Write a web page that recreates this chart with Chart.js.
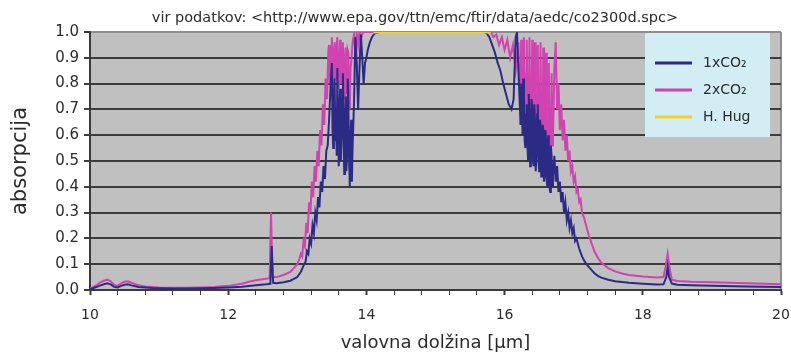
<!DOCTYPE html>
<html>
<head>
<meta charset="utf-8">
<title>absorpcija CO2</title>
<script src="https://cdn.jsdelivr.net/npm/chart.js@4.4.0/dist/chart.umd.min.js"></script>
<style>
  html, body { margin: 0; padding: 0; background: #ffffff; overflow: hidden; }
  canvas { display: block; }
</style>
</head>
<body>
<canvas id="co2Chart" width="791" height="355"></canvas>
<script>
/* ------------------------------- DATA ------------------------------- */
// [valovna dolžina (µm), absorpcija]
const co2Single = [
  [10.00, 0.002], [10.05, 0.008], [10.10, 0.012], [10.15, 0.018], [10.20, 0.022],
  [10.25, 0.026], [10.30, 0.022], [10.35, 0.012], [10.40, 0.010], [10.45, 0.016],
  [10.50, 0.020], [10.55, 0.022], [10.60, 0.018], [10.70, 0.012], [10.80, 0.010],
  [10.90, 0.008], [11.00, 0.007], [11.20, 0.006], [11.40, 0.006], [11.60, 0.007],
  [11.80, 0.008], [12.00, 0.010], [12.20, 0.013], [12.40, 0.018], [12.55, 0.022],
  [12.61, 0.024], [12.63, 0.170], [12.65, 0.028], [12.70, 0.026], [12.80, 0.030],
  [12.90, 0.036], [13.00, 0.050], [13.05, 0.070], [13.10, 0.100], [13.12, 0.110],
  [13.14, 0.150], [13.16, 0.140], [13.18, 0.200], [13.20, 0.180], [13.22, 0.250],
  [13.24, 0.220], [13.26, 0.300], [13.28, 0.270], [13.30, 0.360], [13.32, 0.320],
  [13.34, 0.420], [13.36, 0.380], [13.38, 0.480], [13.40, 0.430], [13.42, 0.540],
  [13.44, 0.560], [13.46, 0.660], [13.48, 0.780], [13.50, 0.880],
  [13.51, 0.620], [13.52, 0.550], [13.53, 0.760], [13.54, 0.820], [13.55, 0.580],
  [13.56, 0.700], [13.57, 0.520], [13.58, 0.860], [13.59, 0.640], [13.60, 0.480],
  [13.61, 0.700], [13.62, 0.780], [13.63, 0.500], [13.64, 0.600], [13.65, 0.740],
  [13.66, 0.840], [13.67, 0.560], [13.68, 0.450], [13.69, 0.660], [13.70, 0.750],
  [13.71, 0.460], [13.72, 0.520], [13.73, 0.820], [13.74, 0.700], [13.75, 0.500],
  [13.76, 0.400], [13.77, 0.600], [13.78, 0.660], [13.79, 0.420], [13.80, 0.550],
  [13.82, 0.720], [13.84, 0.980], [13.86, 0.880], [13.88, 0.700], [13.90, 0.860],
  [13.92, 0.990], [13.94, 0.900], [13.96, 0.800], [13.98, 0.880], [14.00, 0.900],
  [14.02, 0.930], [14.05, 0.960], [14.08, 0.980], [14.12, 0.995], [14.20, 1.000],
  [15.70, 1.000], [15.74, 0.995], [15.78, 0.980], [15.82, 0.950], [15.86, 0.920],
  [15.90, 0.880], [15.94, 0.850], [15.98, 0.800], [16.02, 0.760], [16.06, 0.720],
  [16.10, 0.700], [16.13, 0.740], [16.16, 0.980], [16.18, 1.000], [16.20, 0.850],
  [16.22, 0.720], [16.23, 0.640], [16.24, 0.800], [16.25, 0.700], [16.26, 0.600],
  [16.27, 0.820], [16.28, 0.750], [16.29, 0.580], [16.30, 0.550], [16.31, 0.680],
  [16.32, 0.720], [16.33, 0.560], [16.34, 0.500], [16.35, 0.760], [16.36, 0.680],
  [16.37, 0.480], [16.38, 0.520], [16.39, 0.740], [16.40, 0.700], [16.41, 0.500],
  [16.42, 0.480], [16.43, 0.720], [16.44, 0.660], [16.45, 0.460], [16.46, 0.500],
  [16.47, 0.680], [16.48, 0.720], [16.49, 0.520], [16.50, 0.460], [16.51, 0.660],
  [16.52, 0.640], [16.53, 0.440], [16.54, 0.480], [16.55, 0.640], [16.56, 0.620],
  [16.57, 0.420], [16.58, 0.440], [16.59, 0.620], [16.60, 0.580], [16.61, 0.420],
  [16.62, 0.400], [16.63, 0.600], [16.64, 0.550], [16.65, 0.400], [16.66, 0.380],
  [16.67, 0.560], [16.68, 0.520], [16.69, 0.400], [16.70, 0.440], [16.72, 0.520],
  [16.74, 0.420], [16.76, 0.480], [16.78, 0.380], [16.80, 0.420], [16.82, 0.340],
  [16.84, 0.380], [16.86, 0.300], [16.88, 0.340], [16.90, 0.270], [16.92, 0.300],
  [16.94, 0.240], [16.96, 0.270], [16.98, 0.220], [17.00, 0.240], [17.02, 0.190],
  [17.04, 0.200], [17.08, 0.160], [17.12, 0.130], [17.16, 0.110], [17.20, 0.095],
  [17.25, 0.080], [17.30, 0.065], [17.35, 0.055], [17.40, 0.048], [17.50, 0.040],
  [17.60, 0.034], [17.80, 0.028], [18.00, 0.024], [18.20, 0.021], [18.30, 0.022],
  [18.34, 0.050], [18.36, 0.090], [18.38, 0.050], [18.42, 0.025], [18.50, 0.020],
  [18.70, 0.018], [19.00, 0.016], [19.50, 0.014], [20.00, 0.012]
];

const co2Double = [
  [10.00, 0.004], [10.05, 0.012], [10.10, 0.020], [10.15, 0.030], [10.20, 0.036],
  [10.25, 0.040], [10.30, 0.034], [10.35, 0.020], [10.40, 0.016], [10.45, 0.026],
  [10.50, 0.032], [10.55, 0.034], [10.60, 0.028], [10.70, 0.018], [10.80, 0.014],
  [10.90, 0.012], [11.00, 0.010], [11.20, 0.009], [11.40, 0.009], [11.60, 0.010],
  [11.80, 0.012], [12.00, 0.016], [12.20, 0.024], [12.30, 0.032], [12.40, 0.038],
  [12.50, 0.042], [12.60, 0.046], [12.62, 0.300], [12.64, 0.050], [12.70, 0.050],
  [12.80, 0.058], [12.90, 0.070], [12.95, 0.085], [13.00, 0.100], [13.03, 0.120],
  [13.05, 0.140], [13.07, 0.130], [13.09, 0.190], [13.11, 0.170], [13.13, 0.260],
  [13.15, 0.220], [13.17, 0.340], [13.19, 0.300], [13.21, 0.420], [13.23, 0.360],
  [13.25, 0.480], [13.27, 0.420], [13.29, 0.540], [13.31, 0.480], [13.33, 0.620],
  [13.35, 0.560], [13.37, 0.720], [13.39, 0.640], [13.41, 0.820], [13.43, 0.740],
  [13.45, 0.930], [13.46, 0.950], [13.47, 0.800],
  [13.48, 0.880], [13.49, 0.940], [13.50, 0.980], [13.51, 0.860], [13.52, 0.800],
  [13.53, 0.920], [13.54, 0.960], [13.55, 0.820], [13.56, 0.840], [13.57, 0.950],
  [13.58, 0.980], [13.59, 0.840], [13.60, 0.780], [13.61, 0.900], [13.62, 0.970],
  [13.63, 0.800], [13.64, 0.820], [13.65, 0.940], [13.66, 0.960], [13.67, 0.780],
  [13.68, 0.740], [13.69, 0.900], [13.70, 0.940], [13.71, 0.760], [13.72, 0.800],
  [13.73, 0.930], [13.74, 0.920], [13.75, 0.740], [13.76, 0.700], [13.77, 0.860],
  [13.78, 0.880], [13.80, 0.960], [13.82, 0.990], [13.84, 0.920], [13.86, 1.000],
  [13.88, 0.950], [13.90, 1.000], [13.92, 0.970], [13.95, 1.000], [15.80, 1.000],
  [15.84, 0.980], [15.88, 0.990], [15.92, 0.950], [15.96, 0.980], [16.00, 0.930],
  [16.04, 0.970], [16.08, 0.900], [16.12, 0.950], [16.16, 0.850], [16.20, 0.960],
  [16.21, 0.800], [16.22, 0.880], [16.23, 0.720], [16.24, 0.970], [16.25, 0.780],
  [16.26, 0.860], [16.27, 0.700], [16.28, 0.980], [16.29, 0.760], [16.30, 0.840],
  [16.31, 0.680], [16.32, 0.970], [16.33, 0.740], [16.34, 0.820], [16.35, 0.660],
  [16.36, 0.980], [16.37, 0.720], [16.38, 0.800], [16.39, 0.640], [16.40, 0.970],
  [16.41, 0.700], [16.42, 0.780], [16.43, 0.620], [16.44, 0.960], [16.45, 0.680],
  [16.46, 0.760], [16.47, 0.600], [16.48, 0.950], [16.49, 0.660], [16.50, 0.740],
  [16.51, 0.600], [16.52, 0.960], [16.53, 0.640], [16.54, 0.720], [16.55, 0.580],
  [16.56, 0.940], [16.57, 0.620], [16.58, 0.700], [16.59, 0.560], [16.60, 0.920],
  [16.61, 0.600], [16.62, 0.660], [16.63, 0.540], [16.64, 0.880], [16.65, 0.580],
  [16.66, 0.620], [16.67, 0.520], [16.68, 0.840], [16.69, 0.560], [16.70, 0.580],
  [16.72, 0.860], [16.74, 0.960], [16.76, 0.700], [16.78, 0.800], [16.80, 0.620],
  [16.82, 0.720], [16.84, 0.580], [16.86, 0.660], [16.88, 0.540], [16.90, 0.600],
  [16.92, 0.500], [16.94, 0.540], [16.96, 0.460], [16.98, 0.480], [17.00, 0.420],
  [17.02, 0.440], [17.04, 0.380], [17.06, 0.390], [17.08, 0.340], [17.10, 0.350],
  [17.12, 0.300], [17.15, 0.280], [17.18, 0.250], [17.22, 0.210], [17.26, 0.180],
  [17.30, 0.150], [17.35, 0.125], [17.40, 0.105], [17.45, 0.095], [17.50, 0.085],
  [17.60, 0.072], [17.70, 0.064], [17.80, 0.058], [18.00, 0.052], [18.20, 0.048],
  [18.30, 0.050], [18.33, 0.090], [18.36, 0.140], [18.39, 0.080], [18.42, 0.040],
  [18.50, 0.035], [18.70, 0.032], [19.00, 0.030], [19.50, 0.026], [20.00, 0.022]
];

const hugLevel = [[14.10, 1.0], [15.80, 1.0]];

const seriesLabels = ["1xCO\u2082", "2xCO\u2082", "H. Hug"];
const seriesColors = ["#2b2b85", "#d043b0", "#f2d22a"];
const xTickLabels = [10, 12, 14, 16, 18, 20];
const sourceText = "vir podatkov: <http://www.epa.gov/ttn/emc/ftir/data/aedc/co2300d.spc>";

const FONT = "'DejaVu Sans', sans-serif";
const TEXT_COLOR = "#2b2b2b";

const toPoints = (pairs) => pairs.map(([x, y]) => ({ x, y }));
const isMajor = (v) => Math.abs(v - Math.round(v)) < 1e-6 && xTickLabels.includes(Math.round(v));

/* ------------------------------- PLUGINS ------------------------------- */
// grey plot background + light right edge
const plotBackground = {
  id: "plotBackground",
  beforeDraw(chart) {
    const { ctx, chartArea: a } = chart;
    ctx.save();
    ctx.fillStyle = "#c0c0c0";
    ctx.fillRect(a.left, a.top, a.right - a.left, a.bottom - a.top);
    ctx.strokeStyle = "#8e8e8e";
    ctx.lineWidth = 2;
    ctx.beginPath();
    ctx.moveTo(a.right, a.top);
    ctx.lineTo(a.right, a.bottom);
    ctx.stroke();
    ctx.restore();
  },
};

// source line above the plot
const sourceTitle = {
  id: "sourceTitle",
  afterDraw(chart) {
    const { ctx } = chart;
    ctx.save();
    ctx.font = `14.5px ${FONT}`;
    ctx.fillStyle = TEXT_COLOR;
    ctx.textAlign = "center";
    ctx.textBaseline = "middle";
    ctx.fillText(sourceText, 415, 18);
    ctx.restore();
  },
};

// light blue legend box in the top right corner
const legendBox = {
  id: "legendBox",
  afterDraw(chart) {
    const { ctx, chartArea: a } = chart;
    const left = a.right - 136;
    const top = a.top + 1;
    ctx.save();
    ctx.fillStyle = "#d3edf4";
    ctx.fillRect(left, top, 125, 104);
    ctx.font = `14px ${FONT}`;
    ctx.textBaseline = "middle";
    chart.data.datasets.forEach((ds, i) => {
      const y = top + 30 + i * 27;
      ctx.strokeStyle = ds.borderColor;
      ctx.lineWidth = 3;
      ctx.beginPath();
      ctx.moveTo(left + 10, y);
      ctx.lineTo(left + 47, y);
      ctx.stroke();
      ctx.fillStyle = TEXT_COLOR;
      ctx.fillText(ds.label, left + 58, y);
    });
    ctx.restore();
  },
};

/* ------------------------------- CHART ------------------------------- */
const ctx = document.getElementById("co2Chart").getContext("2d");

const co2Chart = new Chart(ctx, {
  type: "line",
  data: {
    datasets: [
      {
        label: seriesLabels[0],
        data: toPoints(co2Single),
        borderColor: seriesColors[0],
        borderWidth: 2,
        order: 1,
      },
      {
        label: seriesLabels[1],
        data: toPoints(co2Double),
        borderColor: seriesColors[1],
        borderWidth: 2,
        order: 2,
      },
      {
        label: seriesLabels[2],
        data: toPoints(hugLevel),
        borderColor: seriesColors[2],
        borderWidth: 3,
        order: 0,
      },
    ],
  },
  options: {
    responsive: false,
    animation: false,
    elements: {
      point: { radius: 0 },
      line: { tension: 0 },
    },
    layout: {
      padding: { top: 32, right: 10, left: 0, bottom: 0 },
    },
    plugins: {
      legend: { display: false },
      title: { display: false },
      tooltip: { enabled: false },
    },
    scales: {
      x: {
        type: "linear",
        min: 10,
        max: 20,
        afterFit: (scale) => {
          scale.height = 65;
          // let the "20" label hang into the right margin
          scale.paddingLeft = 0;
          scale.paddingRight = 0;
        },
        ticks: {
          stepSize: 0.4,
          autoSkip: false,
          maxRotation: 0,
          padding: 12,
          color: TEXT_COLOR,
          font: { family: FONT, size: 14 },
          callback: (value) => (isMajor(value) ? String(Math.round(value)) : ""),
        },
        grid: {
          drawOnChartArea: false,
          drawTicks: true,
          tickLength: 5,
          tickColor: "#3a3a3a",
          tickWidth: (c) => (c.tick && isMajor(c.tick.value) ? 2 : 1),
        },
        border: { color: "#3a3a3a", width: 2 },
        title: {
          display: true,
          text: "valovna dolžina [µm]",
          color: TEXT_COLOR,
          font: { family: FONT, size: 18 },
          padding: { top: 0, bottom: 1 },
        },
      },
      y: {
        min: 0,
        max: 1,
        afterFit: (scale) => {
          scale.width = 90;
        },
        ticks: {
          stepSize: 0.1,
          padding: 5,
          color: TEXT_COLOR,
          font: { family: FONT, size: 15 },
          callback: (value) => value.toFixed(1),
        },
        grid: {
          color: (c) => (c.tick && c.tick.value === 1 ? "#8e8e8e" : "#3c3c3c"),
          lineWidth: 2,
          tickLength: 6,
          tickColor: "#3c3c3c",
        },
        border: { color: "#3a3a3a", width: 2 },
        title: {
          display: true,
          text: "absorpcija",
          color: TEXT_COLOR,
          font: { family: FONT, size: 21 },
          padding: { top: 8, bottom: 0 },
        },
      },
    },
  },
  plugins: [plotBackground, sourceTitle, legendBox],
});
</script>
</body>
</html>
